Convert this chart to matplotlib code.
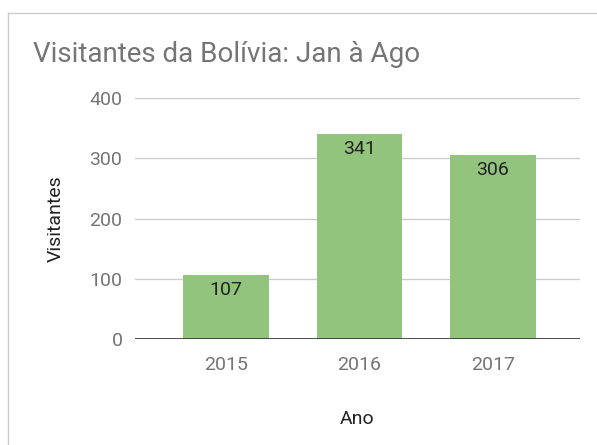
import matplotlib
matplotlib.use("Agg")
import matplotlib.pyplot as plt
from matplotlib.lines import Line2D

categories = ["2015", "2016", "2017"]
values = [107, 341, 306]
yticks = [0, 100, 200, 300, 400]

plt.rcParams['font.family'] = ['Roboto', 'DejaVu Sans']

fig = plt.figure(figsize=(5.97, 4.45), dpi=100)
ax = fig.add_axes([135/597, 1-339/445, 445/597, (339-98)/445])

x = list(range(len(categories)))
ax.bar(x, values, width=0.64, color="#93c47d", zorder=3)
for xi, v in zip(x, values):
    ax.annotate(str(v), (xi, v), xytext=(0, -11), textcoords="offset points",
                ha="center", va="center", fontsize=14, color="#222222", zorder=4)

ax.set_xlim(-0.682, 2.652)
ax.set_ylim(0, 400)
ax.set_yticks(yticks)
ax.set_xticks(x)
ax.set_xticklabels(categories)
ax.tick_params(axis="both", length=0, labelsize=14, colors="#757575")
ax.tick_params(axis="y", pad=9)
ax.tick_params(axis="x", pad=12)
ax.grid(axis="y", color="#cccccc", linewidth=1, zorder=0)
for s in ax.spines.values():
    s.set_visible(False)
ax.axhline(0, color="#333333", linewidth=1.2, zorder=5)

ax.set_ylabel("Visitantes", fontsize=14, color="#222222", labelpad=18)
ax.set_xlabel("Ano", fontsize=14, color="#222222", labelpad=26)

fig.text(33/597, 1-55/445, "Visitantes da Bolívia: Jan à Ago", fontsize=20,
         color="#757575", ha="left", va="center")

# light frame lines (top and left)
fig.add_artist(Line2D([8/597, 1], [1-13/445, 1-13/445], color="#cccccc", linewidth=1,
                      transform=fig.transFigure))
fig.add_artist(Line2D([8/597, 8/597], [0, 1-13/445], color="#cccccc", linewidth=1,
                      transform=fig.transFigure))

fig.savefig("out.png", dpi=100)
